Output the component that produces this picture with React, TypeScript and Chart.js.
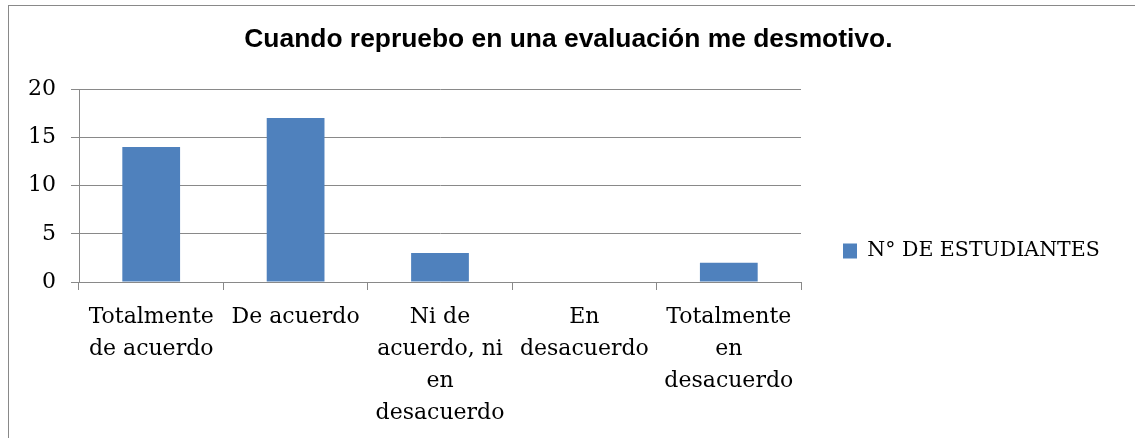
import { useEffect, useRef } from 'react';
import { Chart, registerables } from 'chart.js';

Chart.register(...registerables);

// ---- data ----
const TITLE = 'Cuando repruebo en una evaluación me desmotivo.';
const SERIES_LABEL = 'N° DE ESTUDIANTES';
const categories: string[][] = [
  ['Totalmente', 'de acuerdo'],
  ['De acuerdo'],
  ['Ni de', 'acuerdo, ni', 'en', 'desacuerdo'],
  ['En', 'desacuerdo'],
  ['Totalmente', 'en', 'desacuerdo'],
];
const studentCounts = [14, 17, 3, 0, 2];
const Y_MIN = 0;
const Y_MAX = 20;
const Y_STEP = 5;

// ---- style / layout ----
const GRID = '#898989';
const BAR = '#4F81BD';
const SERIF = '"DejaVu Serif", "Liberation Serif", serif';
const SANS = '"Liberation Sans", Arial, sans-serif';
const TICK_FONT = 22;
const LEGEND_FONT = 20.5;
const LEGEND_PAD = 42;
const BOX_W = 14;
const BOX_H = 15;
const CANVAS_H = 490;
const PLOT_LEFT = 70;
const PLOT_RIGHT = 792;
const PLOT_BOTTOM = 276;
const TICK_LEN = 8;
const Y_TICK_PAD = 15;

function measure(text: string, font: string): number {
  const ctx = document.createElement('canvas').getContext('2d');
  if (!ctx) return 0;
  ctx.font = font;
  return ctx.measureText(text).width;
}

export default function App() {
  const ref = useRef<HTMLCanvasElement>(null);
  const textW = measure(SERIES_LABEL, `${LEGEND_FONT}px ${SERIF}`);
  const legendW = LEGEND_PAD + BOX_W + LEGEND_FONT / 2 + textW + 10;
  const W = Math.round(PLOT_RIGHT + legendW);
  const padRight = W - (PLOT_RIGHT + legendW);
  const yLabelW = measure(String(Y_MAX), `${TICK_FONT}px ${SERIF}`);
  const padLeft = Math.max(0, Math.floor(PLOT_LEFT - TICK_LEN - Y_TICK_PAD - yLabelW) - 1);

  useEffect(() => {
    if (!ref.current) return;
    const chart = new Chart(ref.current, {
      type: 'bar',
      data: {
        labels: categories,
        datasets: [
          {
            label: SERIES_LABEL,
            data: studentCounts,
            backgroundColor: BAR,
            borderWidth: 0,
            categoryPercentage: 1,
            barPercentage: 0.4,
          },
        ],
      },
      options: {
        responsive: false,
        animation: false,
        devicePixelRatio: 1,
        layout: { padding: { left: padLeft, right: padRight, top: 0, bottom: 0 } },
        plugins: {
          title: {
            display: true,
            text: TITLE,
            color: '#000',
            font: { family: SANS, size: 26.4, weight: 'bold', lineHeight: 1.2 },
            padding: { top: 18, bottom: 33.5 },
          },
          legend: {
            display: true,
            position: 'right',
            maxWidth: 2000,
            labels: {
              color: '#000',
              font: { family: SERIF, size: LEGEND_FONT },
              boxWidth: BOX_W,
              boxHeight: BOX_H,
              padding: LEGEND_PAD,
            },
          },
          tooltip: { enabled: false },
        },
        scales: {
          x: {
            afterFit: (scale: any) => {
              scale.height = CANVAS_H - PLOT_BOTTOM;
            },
            grid: {
              display: true,
              drawOnChartArea: false,
              drawTicks: true,
              tickLength: TICK_LEN,
              color: GRID,
              offset: true,
            },
            border: { display: true, color: GRID },
            ticks: {
              color: '#000',
              font: { family: SERIF, size: TICK_FONT, lineHeight: 1.455 },
              padding: 11,
              autoSkip: false,
              maxRotation: 0,
              minRotation: 0,
            },
          },
          y: {
            min: Y_MIN,
            max: Y_MAX,
            afterFit: (scale: any) => {
              scale.width = PLOT_LEFT - padLeft;
            },
            grid: {
              color: GRID,
              tickLength: TICK_LEN,
              drawTicks: true,
            },
            border: { display: true, color: GRID },
            ticks: {
              stepSize: Y_STEP,
              color: '#000',
              font: { family: SERIF, size: TICK_FONT },
              padding: Y_TICK_PAD,
            },
          },
        },
      },
    });
    return () => chart.destroy();
  }, [W, padLeft, padRight]);

  return (
    <div
      style={{
        position: 'fixed',
        left: 8,
        top: 5,
        width: 1300,
        height: 600,
        border: `1px solid ${GRID}`,
        background: '#fff',
      }}
    >
      <canvas
        ref={ref}
        width={W}
        height={CANVAS_H}
        style={{ display: 'block', width: W, height: CANVAS_H }}
      />
    </div>
  );
}
